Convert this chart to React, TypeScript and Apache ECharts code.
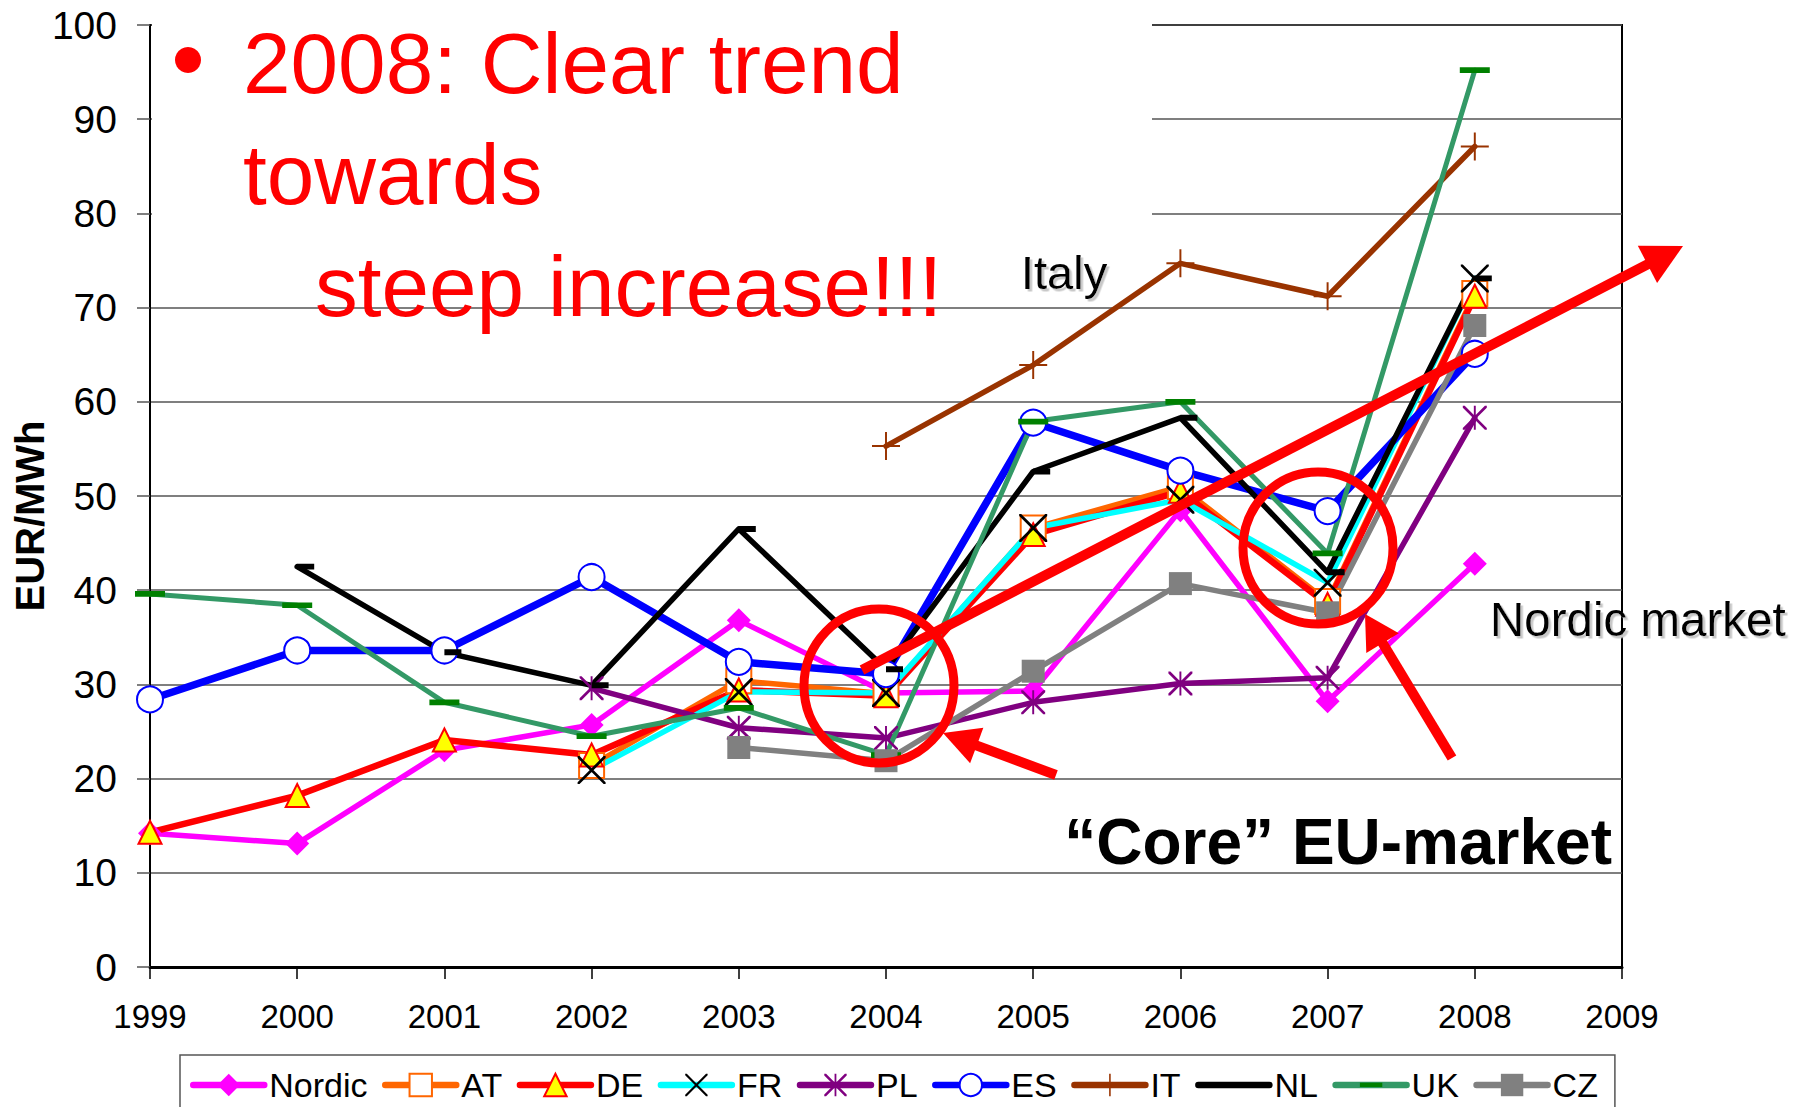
import React, { useEffect, useRef } from 'react';
import * as echarts from 'echarts';

const FONT = '"Liberation Sans", Arial, Helvetica, sans-serif';

const years = ['1999', '2000', '2001', '2002', '2003', '2004', '2005', '2006', '2007', '2008', '2009'];

const nordic = [14.2, 13.1, 23.0, 25.7, 36.8, 29.1, 29.3, 48.5, 28.2, 42.8, null];
const at = [null, null, null, 21.4, 30.4, 29.0, 46.6, 51.0, 38.8, 71.5, null];
const de = [14.3, 18.2, 24.1, 22.5, 29.4, 28.8, 45.9, 50.5, 38.5, 71.2, null];
const fr = [null, null, null, 20.9, 29.2, 29.1, 46.6, 49.6, 40.8, 73.1, null];
const pl = [null, null, null, 29.6, 25.4, 24.3, 28.1, 30.1, 30.7, 58.3, null];
const es = [28.4, 33.6, 33.6, 41.4, 32.4, 31.1, 57.8, 52.7, 48.4, 65.1, null];
const it = [null, null, null, null, null, 55.3, 63.9, 74.7, 71.2, 87.1, null];
const nl = [null, 42.5, 33.4, 29.9, 46.5, 31.6, 52.6, 58.3, 41.9, 73.1, null];
const uk = [39.6, 38.4, 28.1, 24.5, 27.5, 22.5, 57.9, 60.0, 43.9, 95.2, null];
const cz = [null, null, null, null, 23.3, 21.9, 31.4, 40.7, 37.6, 68.1, null];

const legendNames = ['Nordic', 'AT', 'DE', 'FR', 'PL', 'ES', 'IT', 'NL', 'UK', 'CZ'];

const X_PATH = 'path://M0,0L1.4,0L20,18.6L20,20L18.6,20L0,1.4Z M20,0L20,1.4L1.4,20L0,20L0,18.6L18.6,0Z';
const STAR_PATH = 'path://M0,0L1.6,0L20,18.4L20,20L18.4,20L0,1.6Z M20,0L20,1.6L1.6,20L0,20L0,18.4L18.4,0Z M9.2,0H10.8V20H9.2Z';
const PLUS_PATH = 'path://M9.3,0H10.7V20H9.3Z M0,9.3H20V10.7H0Z';
const DASH_PATH = 'path://M0,0L0.01,0L0.01,0.01Z M0,10L0.01,10L0.01,10.01Z M0,4.05H10V5.95H0Z';
const DASH_RIGHT_PATH = 'path://M0,0L0.01,0L0.01,0.01Z M0,10L0.01,10L0.01,10.01Z M5,4.12H10V5.88H5Z';

function mk(name: string, data: (number | null)[], lineColor: string, width: number, symbol: string, symbolSize: number, itemStyle: any) {
  return {
    name,
    type: 'line',
    data,
    symbol,
    symbolSize,
    showSymbol: true,
    showAllSymbol: true,
    connectNulls: false,
    lineStyle: { color: lineColor, width, cap: 'round', join: 'round' },
    itemStyle,
    emphasis: { disabled: true },
  };
}

function arrow(tail: number[], tip: number[], L: number, W: number, lw: number) {
  const dx = tip[0] - tail[0];
  const dy = tip[1] - tail[1];
  const len = Math.sqrt(dx * dx + dy * dy);
  const ux = dx / len;
  const uy = dy / len;
  const mx = tip[0] - L * ux;
  const my = tip[1] - L * uy;
  const nx = -uy;
  const ny = ux;
  return [
    {
      type: 'line', z: 100, silent: true,
      shape: { x1: tail[0], y1: tail[1], x2: mx + ux * 2, y2: my + uy * 2 },
      style: { stroke: '#FF0000', lineWidth: lw, lineCap: 'butt' },
    },
    {
      type: 'polygon', z: 100, silent: true,
      shape: { points: [[tip[0], tip[1]], [mx + W * nx, my + W * ny], [mx - W * nx, my - W * ny]] },
      style: { fill: '#FF0000' },
    },
  ];
}

export default function App() {
  const ref = useRef<HTMLDivElement>(null);
  useEffect(() => {
    const chart = echarts.init(ref.current as HTMLDivElement, null, { renderer: 'svg' });
    const redText = (text: string, x: number, y: number) => ({
      type: 'text', z: 100, x, y, silent: true,
      style: { text, fill: '#FF0000', fontSize: 85.5, fontFamily: FONT, align: 'left', verticalAlign: 'middle' },
    });
    const option: any = {
      animation: false,
      backgroundColor: '#ffffff',
      textStyle: { fontFamily: FONT },
      grid: {
        left: 150, right: 180, top: 25, bottom: 140,
        show: true, borderColor: '#000', borderWidth: 2, backgroundColor: 'transparent',
      },
      xAxis: {
        type: 'category',
        data: years,
        boundaryGap: false,
        axisLine: { show: true, lineStyle: { color: '#000', width: 3 } },
        axisTick: { show: true, length: 12, lineStyle: { color: '#000', width: 1.5 } },
        axisLabel: { interval: 0, fontSize: 33, color: '#000', margin: 33, fontFamily: FONT },
        splitLine: { show: false },
      },
      yAxis: {
        type: 'value',
        min: 0, max: 100, interval: 10,
        axisLine: { show: true, lineStyle: { color: '#000', width: 2 } },
        axisTick: { show: true, length: 13, lineStyle: { color: '#555', width: 1.5 } },
        axisLabel: { fontSize: 39, color: '#000', margin: 33, fontFamily: FONT },
        splitLine: { show: true, lineStyle: { color: '#555', width: 1.5 } },
      },
      legend: {
        data: legendNames,
        left: 180, top: 1055,
        orient: 'horizontal',
        padding: [13, 17, 13, 10],
        itemWidth: 71, itemHeight: 28, itemGap: 14.5,
        borderColor: '#555', borderWidth: 1.5,
        selectedMode: false,
        lineStyle: { width: 6.5, cap: 'round' },
        textStyle: { fontSize: 34, color: '#000', fontFamily: FONT },
      },
      series: [
        mk('Nordic', nordic, '#FF00FF', 5.5, 'diamond', 24, { color: '#FF00FF' }),
        mk('AT', at, '#FF6600', 5.5, 'rect', 25, { color: '#FFFFFF', borderColor: '#FF6600', borderWidth: 2 }),
        mk('DE', de, '#FF0000', 6.5, 'triangle', 23, { color: '#FFFF00', borderColor: '#FF0000', borderWidth: 2 }),
        mk('FR', fr, '#00FFFF', 5.5, X_PATH, 28, { color: '#000000' }),
        mk('PL', pl, '#800080', 5.5, STAR_PATH, 24, { color: '#800080' }),
        mk('ES', es, '#0000FF', 7.5, 'circle', 26, { color: '#FFFFFF', borderColor: '#0000FF', borderWidth: 2 }),
        mk('IT', it, '#993300', 5.5, PLUS_PATH, 28, { color: '#993300' }),
        mk('NL', nl, '#000000', 5.5, DASH_RIGHT_PATH, 34, { color: '#000000' }),
        mk('UK', uk, '#339966', 5, DASH_PATH, 30, { color: '#008000' }),
        mk('CZ', cz, '#808080', 5.5, 'rect', 23, { color: '#808080' }),
      ],
      graphic: [
        { type: 'rect', z: 1, silent: true, shape: { x: 152, y: 0, width: 1000, height: 265 }, style: { fill: '#FFFFFF' } },
        {
          type: 'text', z: 100, x: 30, y: 516, rotation: Math.PI / 2, silent: true,
          style: { text: 'EUR/MWh', fill: '#000', fontSize: 40, fontWeight: 'bold', fontFamily: FONT, align: 'center', verticalAlign: 'middle' },
        },
        { type: 'circle', z: 100, silent: true, shape: { cx: 188, cy: 60, r: 13 }, style: { fill: '#FF0000' } },
        redText('2008: Clear trend', 243, 63),
        redText('towards', 243, 174),
        redText('steep increase!!!', 315, 286),
        {
          type: 'text', z: 100, x: 1021, y: 272, silent: true,
          style: {
            text: 'Italy', fill: '#000', fontSize: 47, fontFamily: FONT, align: 'left', verticalAlign: 'middle',
            textShadowColor: '#C8C8C8', textShadowOffsetX: 2.5, textShadowOffsetY: 2.5, textShadowBlur: 1,
          },
        },
        {
          type: 'text', z: 100, x: 1490, y: 619, silent: true,
          style: {
            text: 'Nordic market', fill: '#000', fontSize: 47.5, fontFamily: FONT, align: 'left', verticalAlign: 'middle',
            textShadowColor: '#C8C8C8', textShadowOffsetX: 2.5, textShadowOffsetY: 2.5, textShadowBlur: 1,
          },
        },
        {
          type: 'text', z: 100, x: 1612, y: 842, silent: true,
          style: { text: '\u201CCore\u201D EU-market', fill: '#000', fontSize: 64, fontWeight: 'bold', fontFamily: FONT, align: 'right', verticalAlign: 'middle' },
        },
        { type: 'ellipse', z: 100, silent: true, shape: { cx: 879, cy: 686, rx: 75, ry: 77 }, style: { fill: 'none', stroke: '#FF0000', lineWidth: 9 } },
        { type: 'ellipse', z: 100, silent: true, shape: { cx: 1318, cy: 548, rx: 75, ry: 76 }, style: { fill: 'none', stroke: '#FF0000', lineWidth: 9 } },
        ...arrow([862, 670], [1683, 246], 40, 21, 10),
        ...arrow([1056, 775], [943, 733], 36, 19, 10),
        ...arrow([1452, 758], [1365, 614], 34, 19, 10),
      ],
    };
    chart.setOption(option);
    return () => chart.dispose();
  }, []);
  return (
    <div
      ref={ref}
      style={{ position: 'fixed', left: 0, top: 0, width: 1802, height: 1107, background: '#fff' }}
    />
  );
}
